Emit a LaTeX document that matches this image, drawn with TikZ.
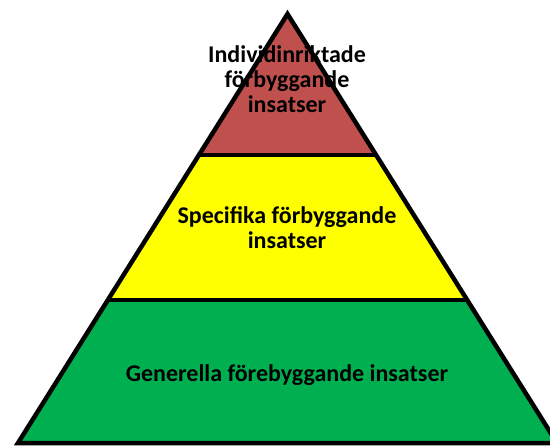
\documentclass[tikz,border=0pt]{standalone}
\usepackage{fontspec}
\setmainfont{Carlito}
\definecolor{topred}{HTML}{C0504D}
\definecolor{midyellow}{HTML}{FFFF00}
\definecolor{basegreen}{HTML}{00B050}

\begin{document}
\begin{tikzpicture}[x=1pt,y=-1pt,
  lvl/.style={align=center,font=\bfseries\fontsize{24}{25}\selectfont}]
\clip(0,0) rectangle (550,448);
\useasboundingbox(0,0) rectangle (550,448);
% corners of the pyramid and the two cuts
\coordinate (apex) at (287.5,14);
\coordinate (bl) at (18,443);
\coordinate (br) at (557,443);
\coordinate (ul) at (199,155);
\coordinate (ur) at (376,155);
\coordinate (ml) at (108,300);
\coordinate (mr) at (467,300);
\fill[topred](apex)--(ur)--(ul)--cycle;
\fill[midyellow](ul)--(ur)--(mr)--(ml)--cycle;
\fill[basegreen](ml)--(mr)--(br)--(bl)--cycle;
\draw[line width=4.5,line join=miter](apex)--(br)--(bl)--cycle;
\draw[line width=4.5](ul)--(ur);
\draw[line width=4.5](ml)--(mr);
\node[lvl] (top) at (287,79) {Individinriktade\\förbyggande\\insatser};
\node[lvl] (mid) at (287,228) {Specifika förbyggande\\insatser};
\node[lvl] (base) at (287,375) {Generella förebyggande insatser};
\end{tikzpicture}
\end{document}
